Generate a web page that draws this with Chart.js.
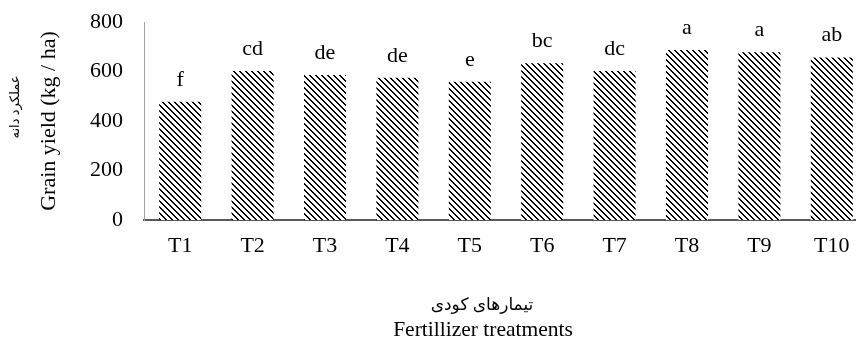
<!DOCTYPE html>
<html>
<head>
<meta charset="utf-8">
<script src="https://cdn.jsdelivr.net/npm/chart.js@4"></script>
<style>
    html, body { margin: 0; padding: 0; background: #fff; overflow: hidden; }
    /* plot runs a little past the right edge of the window, as in the source figure */
    #wrap { width: 868px; height: 343px; position: relative; }
</style>
</head>
<body>
<div id="wrap"><canvas id="yieldChart"></canvas></div>
<script>
// Grain yield per fertilizer treatment
const treatments = ['T1', 'T2', 'T3', 'T4', 'T5', 'T6', 'T7', 'T8', 'T9', 'T10'];
const grainYield = [478, 602, 586, 575, 559, 633, 602, 687, 678, 657];
const groupLetters = ['f', 'cd', 'de', 'de', 'e', 'bc', 'dc', 'a', 'a', 'ab'];
const yTicks = [0, 200, 400, 600, 800];

const yTitleEn = 'Grain yield (kg / ha)';
const yTitleFa = 'عملکرد دانه';
const xTitleEn = 'Fertillizer treatments';
const xTitleFa = 'تیمارهای کودی';

const serif = '"Liberation Serif", "Times New Roman", "DejaVu Sans", serif';

// Excel-like "dark downward diagonal" hatch
function makeHatch() {
    const c = document.createElement('canvas');
    c.width = 6;
    c.height = 6;
    const g = c.getContext('2d');
    g.fillStyle = '#fff';
    g.fillRect(0, 0, 6, 6);
    g.fillStyle = '#000';
    for (let i = 0; i < 6; i++) {
        g.fillRect(i, i, 1, 1);
        g.fillRect((i + 1) % 6, i, 1, 1);
    }
    return g.createPattern(c, 'repeat');
}

// significance letters above each bar
const letterPlugin = {
    id: 'letters',
    afterDatasetsDraw(chart) {
        const ctx = chart.ctx;
        const meta = chart.getDatasetMeta(0);
        ctx.save();
        ctx.font = '22px ' + serif;
        ctx.fillStyle = '#000';
        ctx.textAlign = 'center';
        ctx.textBaseline = 'alphabetic';
        meta.data.forEach(function(bar, i) {
            ctx.fillText(groupLetters[i], bar.x, bar.y - 16);
        });
        ctx.restore();
    }
};

// Persian axis captions and the English x caption (different font sizes than the scale titles)
const captionPlugin = {
    id: 'captions',
    afterDraw(chart) {
        const ctx = chart.ctx;
        ctx.save();
        ctx.fillStyle = '#000';
        ctx.textAlign = 'center';
        ctx.textBaseline = 'middle';
        ctx.font = '17px ' + serif;
        ctx.fillText(xTitleFa, 482, 306);
        ctx.font = '21.5px ' + serif;
        ctx.fillText(xTitleEn, 483, 330);
        ctx.translate(16, 107);
        ctx.rotate(-Math.PI / 2);
        ctx.font = '13px ' + serif;
        ctx.fillText(yTitleFa, 0, 0);
        ctx.restore();
    }
};

const ctx = document.getElementById('yieldChart');

new Chart(ctx, {
    type: 'bar',
    data: {
        labels: treatments,
        datasets: [{
            data: grainYield,
            backgroundColor: makeHatch(),
            borderWidth: 0,
            barPercentage: 0.58,
            categoryPercentage: 1
        }]
    },
    options: {
        responsive: true,
        maintainAspectRatio: false,
        animation: false,
        devicePixelRatio: 1,
        layout: {
            padding: { left: 26, right: 0, top: 22, bottom: 70.6 }
        },
        plugins: {
            legend: { display: false },
            tooltip: { enabled: false }
        },
        scales: {
            x: {
                grid: { display: false, drawTicks: false },
                border: { display: true, color: '#595959', width: 2 },
                ticks: {
                    color: '#000',
                    padding: 13,
                    font: { family: serif, size: 22 }
                }
            },
            y: {
                min: 0,
                max: 800,
                afterBuildTicks: function(scale) {
                    scale.ticks = yTicks.map(function(v) { return { value: v }; });
                },
                afterFit: function(scale) {
                    // let the layout padding alone decide where the plot top sits
                    scale.paddingTop = 0;
                    scale.paddingBottom = 0;
                },
                grid: { display: false, drawTicks: false },
                border: { display: true, color: '#a0a0a0', width: 1 },
                ticks: {
                    color: '#000',
                    padding: 21,
                    font: { family: serif, size: 22 }
                },
                title: {
                    display: true,
                    text: yTitleEn,
                    color: '#000',
                    font: { family: serif, size: 22 },
                    padding: { top: 9.8, bottom: 6.8 }
                }
            }
        }
    },
    plugins: [letterPlugin, captionPlugin]
});
</script>
</body>
</html>
